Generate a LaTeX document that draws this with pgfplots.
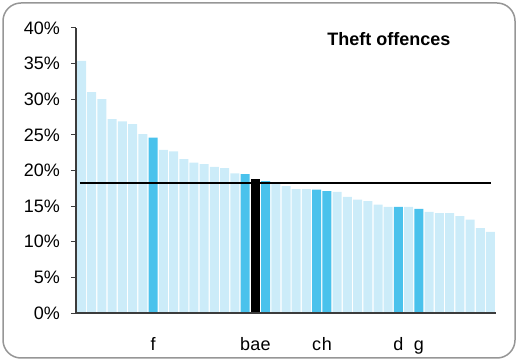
\documentclass[border=0pt]{standalone}
\usepackage{fontspec}
\setmainfont{Liberation Sans}
\usepackage{pgfplots}
\pgfplotsset{compat=1.18}

\definecolor{lightbar}{RGB}{204,236,249}
\definecolor{hibar}{RGB}{74,194,236}
\definecolor{axisgray}{RGB}{60,60,60}
\definecolor{framegray}{RGB}{150,150,150}

\begin{document}
\begin{tikzpicture}[font=\fontsize{18bp}{21bp}\selectfont]
\useasboundingbox (0,0) rectangle (518bp,361bp);
\draw[framegray, line width=1.5bp, rounded corners=18bp] (3bp,3bp) rectangle (515bp,358bp);
\begin{axis}[
    at={(76bp,48bp)}, anchor=south west,
    scale only axis,
    width=420bp, height=285bp,
    axis on top,
    ybar, bar width=9bp, bar shift=0pt,
    xmin=0.46, xmax=41.54,
    ymin=0, ymax=40,
    axis x line=bottom, axis y line=left,
    axis line style={-, axisgray, line width=1.2bp},
    ytick={0,5,...,40},
    yticklabel={\pgfmathprintnumber{\tick}\%},
    /pgf/number format/assume math mode=true,
    ytick align=outside,
    ytick style={axisgray, line width=1bp},
    major tick length=5bp,
    yticklabel style={anchor=east, inner sep=0pt, xshift=-11bp},
    xtick={8,17,18,19,24,25,32,34},
    xticklabels={f,b,a,e,c,h,d,g},
    xtick style={draw=none},
    xticklabel style={anchor=base, inner sep=0pt, yshift=-35bp},
    minor x tick num=0,
]
% other areas
\addplot[fill=lightbar, draw=none] coordinates {
(1,35.4) (2,31.0) (3,30.0) (4,27.2) (5,26.9) (6,26.5) (7,25.1)
(9,22.9) (10,22.7) (11,21.6) (12,21.1) (13,20.9) (14,20.5) (15,20.35) (16,19.6)
(20,18.1) (21,17.8) (22,17.4) (23,17.4) (26,17.0) (27,16.3) (28,15.9)
(29,15.7) (30,15.2) (31,14.9) (33,14.9) (35,14.2) (36,14.0) (37,14.0)
(38,13.6) (39,13.1) (40,11.9) (41,11.4)};
% highlighted areas
\addplot[fill=hibar, draw=none] coordinates {
(8,24.6) (17,19.5) (19,18.5) (24,17.3) (25,17.1) (32,14.9) (34,14.6)};
% selected area
\addplot[fill=black, draw=none] coordinates {(18,18.8)};
% average
\addplot[sharp plot, black, line width=2bp] coordinates {(0.85,18.2) (41.05,18.2)};
\node[anchor=base, font=\fontsize{18bp}{21bp}\selectfont\bfseries]
    at (rel axis cs:0.745,0.94) {Theft offences};
\end{axis}
\end{tikzpicture}
\end{document}
